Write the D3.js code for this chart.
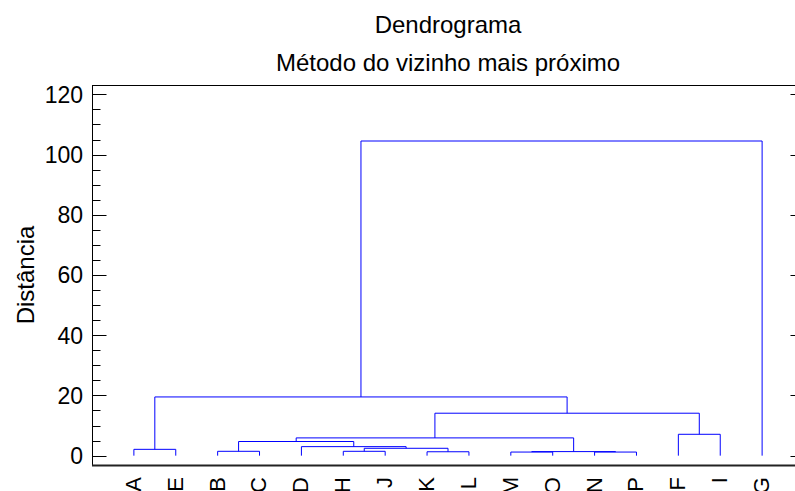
<!DOCTYPE html>
<html>
<head>
<meta charset="utf-8">
<script src="https://cdn.jsdelivr.net/npm/d3@7"></script>
<style>
  html, body { margin: 0; padding: 0; background: #fff; }
  svg text { font-family: "Liberation Sans", Arial, sans-serif; fill: #000; }
</style>
</head>
<body>
<svg id="chart" width="795" height="491"></svg>
<script>
// Leaf order along the horizontal axis
const leaves = ["A","E","B","C","D","H","J","K","L","M","O","N","P","F","I","G"];

// Agglomeration steps: [left child, right child, distance]
// children are leaf names or "c<k>" for the cluster formed at step k
const mergeLeft  = ["A","B","H","K","c2","D","c1","M","N","c7","c6","F","c10","c0","c13"];
const mergeRight = ["E","C","J","L","c3","c4","c5","O","P","c8","c9","I","c11","c12","G"];
const mergeDist  = [2.1, 1.45, 1.45, 1.3, 2.45, 3.0, 4.7, 1.2, 1.2, 1.35, 5.9, 7.1, 14.1, 19.5, 104.5];

const yTicks = [0, 20, 40, 60, 80, 100, 120];
const yMinor = d3.range(0, 121, 5);

const title1 = "Dendrograma";
const title2 = "Método do vizinho mais próximo";
const yTitle = "Distância";

const svg = d3.select("#chart");
const plot = { left: 92, right: 804, top: 85, bottom: 465 };

const x = d3.scalePoint().domain(leaves).range([plot.left, plot.right]).padding(1);
const y = d3.scaleLinear().domain([-3.1, 123.1]).range([plot.bottom, plot.top]);

// Build nested tree from the merge table
const nodes = {};
leaves.forEach(l => nodes[l] = { name: l, dist: 0 });
mergeLeft.forEach((l, i) => {
  nodes["c" + i] = { name: "c" + i, dist: mergeDist[i], children: [nodes[l], nodes[mergeRight[i]]] };
});
const root = d3.hierarchy(nodes["c" + (mergeLeft.length - 1)]);
root.eachAfter(n => {
  n.px = n.children ? d3.mean(n.children, c => c.px) : x(n.data.name);
  n.py = y(n.data.dist);
});

// Frame
svg.append("rect")
  .attr("x", plot.left + 0.5).attr("y", plot.top + 0.5)
  .attr("width", plot.right - plot.left).attr("height", plot.bottom - plot.top)
  .attr("fill", "none").attr("stroke", "#000").attr("stroke-width", 1);
svg.append("line")
  .attr("x1", plot.left).attr("x2", plot.right)
  .attr("y1", plot.bottom + 0.5).attr("y2", plot.bottom + 0.5)
  .attr("stroke", "#222").attr("stroke-width", 2);

// Left axis ticks (inward) and labels
const gL = svg.append("g").attr("transform", `translate(${plot.left + 0.5},0)`);
gL.selectAll("line.minor").data(yMinor).join("line")
  .attr("x1", 0).attr("x2", 8)
  .attr("y1", d => Math.round(y(d)) + 0.5).attr("y2", d => Math.round(y(d)) + 0.5)
  .attr("stroke", "#000");
gL.selectAll("line.major").data(yTicks).join("line")
  .attr("x1", 0).attr("x2", 14)
  .attr("y1", d => Math.round(y(d)) + 0.5).attr("y2", d => Math.round(y(d)) + 0.5)
  .attr("stroke", "#000");
svg.append("g").selectAll("text").data(yTicks).join("text")
  .attr("x", plot.left - 9)
  .attr("y", d => y(d))
  .attr("dy", "0.36em")
  .attr("text-anchor", "end")
  .attr("font-size", 23)
  .text(d => d);

// Right axis ticks (inward)
const gR = svg.append("g").attr("transform", `translate(${plot.right + 0.5},0)`);
gR.selectAll("line.minor").data(yMinor).join("line")
  .attr("x1", 0).attr("x2", -8)
  .attr("y1", d => Math.round(y(d)) + 0.5).attr("y2", d => Math.round(y(d)) + 0.5)
  .attr("stroke", "#000");
gR.selectAll("line.major").data(yTicks).join("line")
  .attr("x1", 0).attr("x2", -14)
  .attr("y1", d => Math.round(y(d)) + 0.5).attr("y2", d => Math.round(y(d)) + 0.5)
  .attr("stroke", "#000");

// Dendrogram links: vertical from each child up to its parent's height, then horizontal bar
const links = svg.append("g").attr("fill", "none").attr("stroke", "#0000ff").attr("stroke-width", 1);
root.descendants().filter(n => n.children).forEach(n => {
  const [a, b] = n.children;
  links.append("path")
    .attr("d", `M${a.px},${a.py}V${n.py}H${b.px}V${b.py}`);
});

// Leaf labels, rotated
svg.append("g").selectAll("text").data(leaves).join("text")
  .attr("transform", d => `translate(${x(d) - 1},${plot.bottom + 12}) rotate(-90)`)
  .attr("text-anchor", "end")
  .attr("dy", "0.36em")
  .attr("font-size", 22)
  .text(d => d);

// Titles
svg.append("text").attr("x", (plot.left + plot.right) / 2).attr("y", 33)
  .attr("text-anchor", "middle").attr("font-size", 24).text(title1);
svg.append("text").attr("x", (plot.left + plot.right) / 2).attr("y", 71)
  .attr("text-anchor", "middle").attr("font-size", 24).text(title2);

svg.append("text")
  .attr("transform", `translate(34,${(plot.top + plot.bottom) / 2}) rotate(-90)`)
  .attr("text-anchor", "middle")
  .attr("font-size", 24)
  .text(yTitle);
</script>
</body>
</html>
